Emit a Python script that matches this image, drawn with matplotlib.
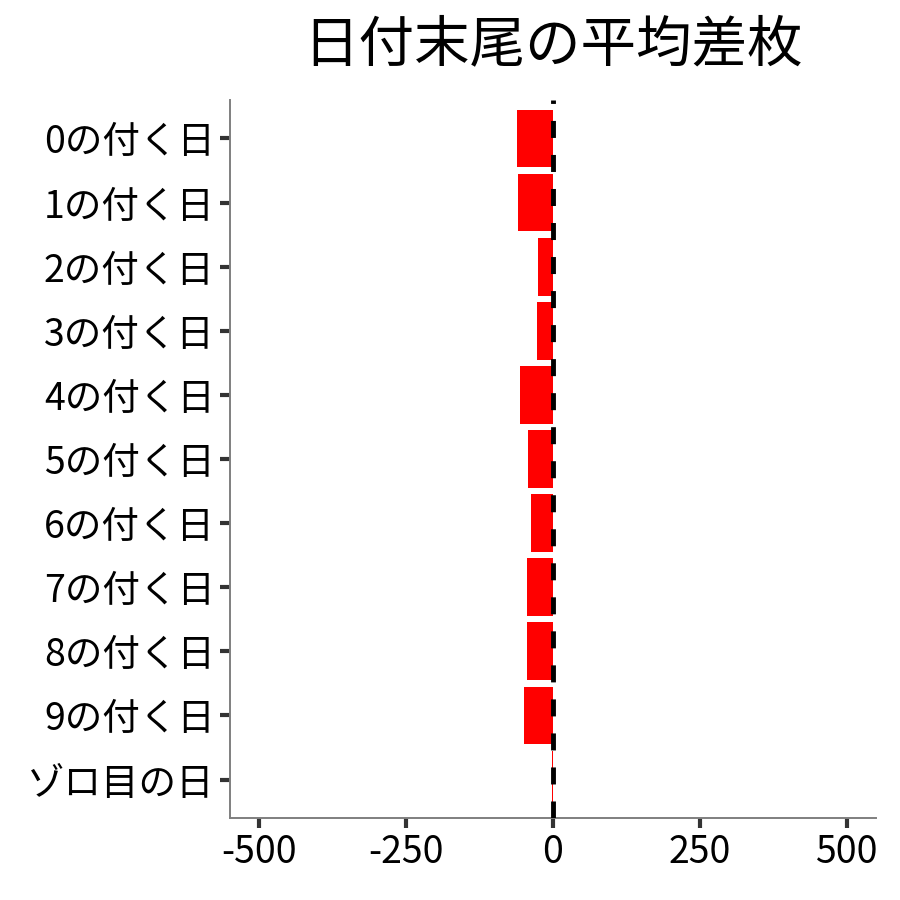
import matplotlib
matplotlib.use("Agg")
import matplotlib.pyplot as plt

plt.rcParams['font.family'] = ['Noto Sans CJK JP', 'DejaVu Sans']

categories = ["0の付く日", "1の付く日", "2の付く日", "3の付く日", "4の付く日",
              "5の付く日", "6の付く日", "7の付く日", "8の付く日", "9の付く日", "ゾロ目の日"]
values = [-62, -59, -25, -28, -57, -42, -38, -45, -45, -49, -2]
xticks = [-500, -250, 0, 250, 500]
title = "日付末尾の平均差枚"

fig = plt.figure(figsize=(9, 9), dpi=100)
ax = fig.add_axes([230/900, 1-818/900, (876-230)/900, (818-100)/900])

ypos = list(range(len(categories)))
ax.barh(ypos, values, height=0.9, color="#FF0000", zorder=2)
ax.axvline(0, color="black", linestyle=(0, (3.5, 3.5)), linewidth=3.5, zorder=3)

ax.set_xlim(-550, 550)
ax.set_ylim(len(categories) - 0.4, -0.6)
ax.set_yticks(ypos)
ax.set_yticklabels(categories)
ax.set_xticks(xticks)
ax.set_xticklabels([str(v) for v in xticks])

for s in ["top", "right"]:
    ax.spines[s].set_visible(False)
for s in ["left", "bottom"]:
    ax.spines[s].set_color("#7f7f7f")
    ax.spines[s].set_linewidth(1.4)
ax.tick_params(axis="both", colors="#333333", width=3, length=7, labelsize=27, labelcolor="black", pad=4)

fig.text((230+876)/2/900, 1-45/900, title, fontsize=40, ha="center", va="center")
fig.savefig("out.png", dpi=100, facecolor="white")
